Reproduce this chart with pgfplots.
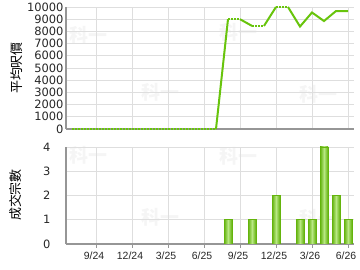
\documentclass[border=0pt]{standalone}
\usepackage{pgfplots}
\pgfplotsset{compat=1.18}
\usepackage{fontspec}
\setmainfont{Liberation Sans}
\newfontfamily\dejavu{DejaVu Sans}
\newfontfamily\cjk{Noto Sans CJK TC}
\definecolor{linegreen}{RGB}{104,196,12}
\definecolor{bardark}{RGB}{96,176,10}
\definecolor{barlight}{RGB}{184,232,130}
\definecolor{barborder}{RGB}{100,180,12}
\definecolor{axisgray}{RGB}{150,150,150}
\definecolor{gridgray}{RGB}{222,222,222}
\definecolor{wm}{RGB}{245,245,245}
\pgfplotsset{mybar/.style={ybar, bar width=8bp, bar shift=0pt, draw=barborder, line width=0.8bp,
  left color=bardark, right color=bardark, middle color=barlight}}
\begin{document}
\begin{tikzpicture}[x=1bp,y=1bp]
\useasboundingbox (0,0) rectangle (360,270);
% watermarks
\foreach \px/\py in {88/235, 160/178, 238/238, 318/176, 88/115, 160/53, 238/114, 318/52}{
  \node[font=\cjk\bfseries\fontsize{19}{19}\selectfont, text=wm] at (\px,\py) {科一};
}
\begin{axis}[
  at={(66bp,141bp)}, anchor=south west, scale only axis,
  width=288bp, height=122bp,
  xmin=-2.5, xmax=21.5, ymin=0, ymax=10000,
  clip=false,
  axis x line=bottom, axis y line=left,
  axis line style={-, draw=axisgray, line width=1.3bp},
  xtick={0,3,...,21}, xticklabels={},
  ytick={0,1000,...,10000},
  major tick length=0pt,
  scaled y ticks=false,
  /pgf/number format/1000 sep={},
  /pgf/number format/assume math mode=true,
  yticklabel style={font=\dejavu\fontsize{11.5}{11.5}\selectfont, text=black!85, xshift=1bp},
  grid=major, grid style={draw=gridgray, line width=0.9bp},
]
% solid segments
\addplot[linegreen, line width=2bp] coordinates {(10,0) (11,9000)};
\addplot[linegreen, line width=2bp] coordinates {(12,9000) (13,8450)};
\addplot[linegreen, line width=2bp] coordinates {(14,8450) (15,10000)};
\addplot[linegreen, line width=2bp] coordinates {(16,10000) (17,8400) (18,9550) (19,8850) (20,9670) (21,9670)};
% dotted segments
\addplot[linegreen, line width=2bp, dash pattern=on 1.6bp off 1.4bp] coordinates {(-2,0) (10,0)};
\addplot[linegreen, line width=2bp, dash pattern=on 1.6bp off 1.4bp] coordinates {(11,9000) (12,9000)};
\addplot[linegreen, line width=2bp, dash pattern=on 1.6bp off 1.4bp] coordinates {(13,8450) (14,8450)};
\addplot[linegreen, line width=2bp, dash pattern=on 1.6bp off 1.4bp] coordinates {(15,10000) (16,10000)};
\end{axis}
\begin{axis}[
  at={(66bp,26bp)}, anchor=south west, scale only axis,
  width=288bp, height=97bp,
  xmin=-2.5, xmax=21.5, ymin=0, ymax=4,
  axis x line=bottom, axis y line=left,
  axis line style={-, draw=axisgray, line width=1.3bp},
  xtick={0,3,...,21},
  xticklabels={9/24,12/24,3/25,6/25,9/25,12/25,3/26,6/26},
  ytick={0,1,2,3,4},
  tick align=outside, major tick length=4bp,
  ytick style={draw=none},
  xtick style={draw=axisgray, line width=1bp},
  /pgf/number format/assume math mode=true,
  yticklabel style={font=\dejavu\fontsize{11.5}{11.5}\selectfont, text=black!85, xshift=-8bp},
  xticklabel style={font=\fontsize{10.5}{10.5}\selectfont, text=black!85, xshift=-2bp},
  grid=major, grid style={draw=gridgray, line width=0.9bp},
]
\addplot[mybar] coordinates {(11,1)};
\addplot[mybar] coordinates {(13,1)};
\addplot[mybar] coordinates {(15,2)};
\addplot[mybar] coordinates {(17,1)};
\addplot[mybar] coordinates {(18,1)};
\addplot[mybar] coordinates {(19,4)};
\addplot[mybar] coordinates {(20,2)};
\addplot[mybar] coordinates {(21,1)};
\end{axis}
\node[rotate=90, font=\cjk\fontsize{13}{13}\selectfont] at (17,202) {平均呎價};
\node[rotate=90, font=\cjk\fontsize{13}{13}\selectfont] at (16,75) {成交宗數};
\end{tikzpicture}
\end{document}
